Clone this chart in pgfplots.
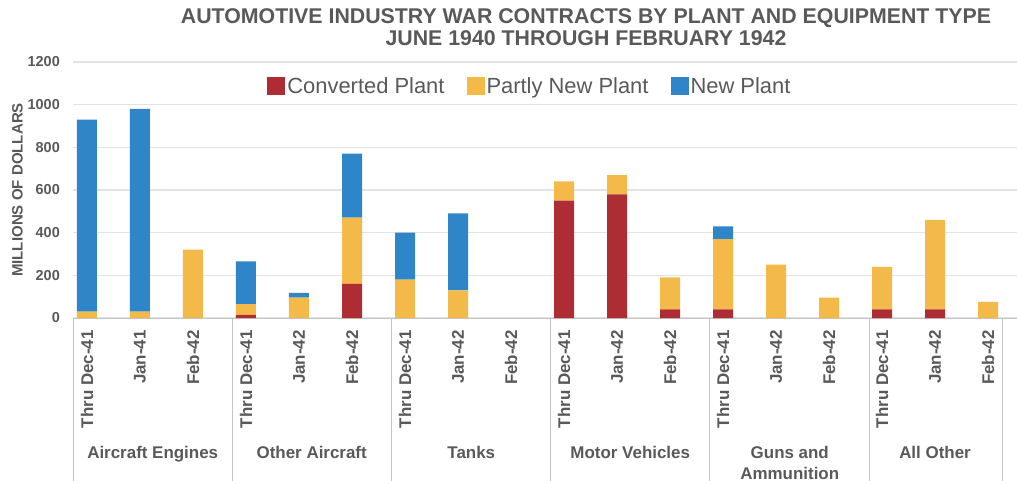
\documentclass[border=0pt]{standalone}
\usepackage{fontspec}
\setmainfont{Liberation Sans}
\usepackage{pgfplots}
\usepackage{pgfplotstable}
\pgfplotsset{compat=1.18}
\definecolor{cred}{HTML}{AE2D34}
\definecolor{cyel}{HTML}{F4BA49}
\definecolor{cblu}{HTML}{2E86C8}
\definecolor{txt}{HTML}{595959}
\definecolor{gridc}{HTML}{E3E3E3}
\definecolor{sepc}{HTML}{C4C4C4}
\pgfplotstableread{
x C P N
0 0 30 900
1 0 30 950
2 0 320 0
3 15 50 200
4 0 95 23
5 160 310 300
6 0 180 220
7 0 130 360
8 0 0 0
9 550 90 0
10 580 90 0
11 40 150 0
12 40 330 60
13 0 250 0
14 0 95 0
15 40 200 0
16 40 420 0
17 0 75 0
}\datatable
\begin{document}
\begin{tikzpicture}
\useasboundingbox (0,0) rectangle (1017bp,481bp);
\node[anchor=base, font=\fontsize{21.4}{24}\selectfont\bfseries, text=txt, inner sep=0pt] at (586bp,457bp) {AUTOMOTIVE INDUSTRY WAR CONTRACTS BY PLANT AND EQUIPMENT TYPE};
\node[anchor=base, font=\fontsize{21.4}{24}\selectfont\bfseries, text=txt, inner sep=0pt] at (586bp,435bp) {JUNE 1940 THROUGH FEBRUARY 1942};
\node[rotate=90, font=\fontsize{15.1}{18}\selectfont\bfseries, text=txt, inner sep=0pt] at (17.5bp,291bp) {MILLIONS OF DOLLARS};
\begin{axis}[
  at={(73bp,163bp)}, anchor=south west,
  scale only axis, width=944bp, height=256bp,
  xmin=-0.264, xmax=17.547, ymin=0, ymax=1200,
  ybar stacked, bar width=20bp,
  ytick={0,200,...,1200},
  ymajorgrids, grid style={gridc, line width=1.2bp},
  axis x line=bottom, axis y line=left,
  x axis line style={-, sepc, line width=1bp},
  y axis line style={draw=none},
  major tick length=0pt,
  xtick={0,...,17},
  xticklabels={Thru Dec-41, Jan-41, Feb-42, Thru Dec-41, Jan-42, Feb-42, Thru Dec-41, Jan-42, Feb-42, Thru Dec-41, Jan-42, Feb-42, Thru Dec-41, Jan-42, Feb-42, Thru Dec-41, Jan-42, Feb-42},
  xticklabel style={rotate=90, anchor=east, font=\fontsize{17}{20}\selectfont\bfseries, text=txt, inner sep=0pt},
  xticklabel shift=12bp,
  yticklabel style={font=\fontsize{14.5}{17}\selectfont\bfseries, text=txt, inner sep=0pt, xshift=-13bp, /pgf/number format/1000 sep={}},
  /pgf/number format/assume math mode=true,
  clip=false,
  legend columns=3,
  legend cell align=left,
  legend style={at={(0.484,0.906)}, anchor=center, draw=none, fill=none,
    font=\fontsize{22}{24}\selectfont, text=txt,
    /tikz/every even column/.append style={column sep=20bp}},
]
\addplot[fill=cred, draw=none, legend image code/.code={\fill[cred] (0bp,-9bp) rectangle (18bp,9bp);}] table[x=x, y=C] {\datatable};
\addplot[fill=cyel, draw=none, legend image code/.code={\fill[cyel] (0bp,-9bp) rectangle (18bp,9bp);}] table[x=x, y=P] {\datatable};
\addplot[fill=cblu, draw=none, legend image code/.code={\fill[cblu] (0bp,-9bp) rectangle (18bp,9bp);}] table[x=x, y=N] {\datatable};
\legend{Converted Plant, Partly New Plant, New Plant}
\draw[sepc, line width=1bp] (axis cs:-0.264,0) -- ([yshift=-170bp]axis cs:-0.264,0);
\draw[sepc, line width=1bp] (axis cs:2.736,0) -- ([yshift=-170bp]axis cs:2.736,0);
\draw[sepc, line width=1bp] (axis cs:5.75,0) -- ([yshift=-170bp]axis cs:5.75,0);
\draw[sepc, line width=1bp] (axis cs:8.75,0) -- ([yshift=-170bp]axis cs:8.75,0);
\draw[sepc, line width=1bp] (axis cs:11.75,0) -- ([yshift=-170bp]axis cs:11.75,0);
\draw[sepc, line width=1bp] (axis cs:14.755,0) -- ([yshift=-170bp]axis cs:14.755,0);
\draw[sepc, line width=1bp] (axis cs:17.264,0) -- ([yshift=-170bp]axis cs:17.264,0);
\node[anchor=base, yshift=-140bp, font=\fontsize{17}{20}\selectfont\bfseries, text=txt, inner sep=0pt] at (axis cs:1.24,0) {Aircraft Engines};
\node[anchor=base, yshift=-140bp, font=\fontsize{17}{20}\selectfont\bfseries, text=txt, inner sep=0pt] at (axis cs:4.24,0) {Other Aircraft};
\node[anchor=base, yshift=-140bp, font=\fontsize{17}{20}\selectfont\bfseries, text=txt, inner sep=0pt] at (axis cs:7.25,0) {Tanks};
\node[anchor=base, yshift=-140bp, font=\fontsize{17}{20}\selectfont\bfseries, text=txt, inner sep=0pt] at (axis cs:10.25,0) {Motor Vehicles};
\node[anchor=base, yshift=-140bp, font=\fontsize{17}{20}\selectfont\bfseries, text=txt, inner sep=0pt] at (axis cs:13.26,0) {Guns and};
\node[anchor=base, yshift=-161bp, font=\fontsize{17}{20}\selectfont\bfseries, text=txt, inner sep=0pt] at (axis cs:13.26,0) {Ammunition};
\node[anchor=base, yshift=-140bp, font=\fontsize{17}{20}\selectfont\bfseries, text=txt, inner sep=0pt] at (axis cs:16.0,0) {All Other};
\end{axis}
\end{tikzpicture}
\end{document}
